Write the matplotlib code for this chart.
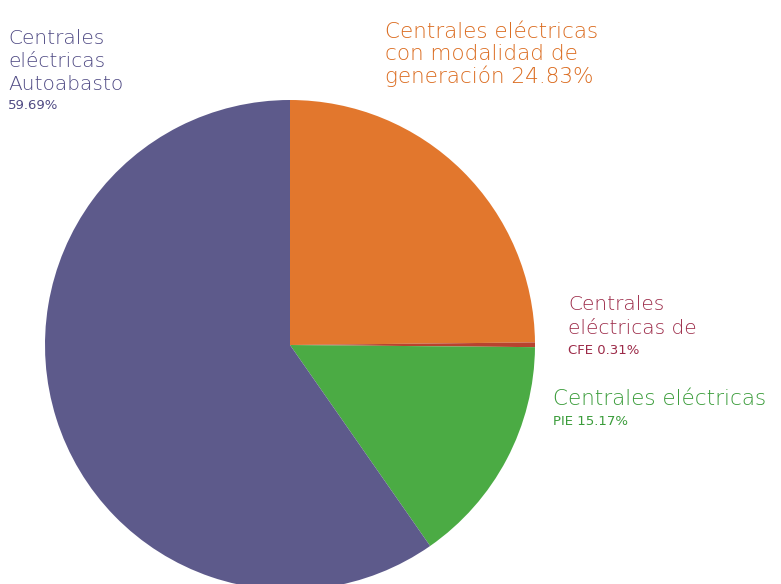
import matplotlib.pyplot as plt

# participación por tipo de central, en orden horario desde las 12
labels = ["generación", "CFE", "PIE", "Autoabasto"]
shares = [24.83, 0.31, 15.17, 59.69]
colors = ["#e2772d", "#b8432f", "#4bab44", "#5d5a8b"]

plt.rcParams['font.family'] = ['DejaVu Sans']

W, H = 781, 584
fig = plt.figure(figsize=(W / 100, H / 100), dpi=100)
ax = fig.add_axes([0, 0, 1, 1])

ax.pie(shares, colors=colors, startangle=90, counterclock=False,
       center=(290, H - 345), radius=245,
       wedgeprops=dict(linewidth=0))
ax.set_xlim(0, W)
ax.set_ylim(0, H)
ax.set_aspect('equal')
ax.axis('off')

SMALL = 9.5


def label(x, lines, color, big):
    # lines: (texto, baseline en px desde arriba, es_pequeño)
    for txt, y, small in lines:
        ax.text(x, H - y, txt, color=color,
                fontsize=SMALL if small else big,
                fontweight='normal' if small else 'light',
                va='baseline', ha='left')


label(8, [("Centrales", 44, False), ("eléctricas", 67, False),
          ("Autoabasto", 90, False), (f"{shares[3]:.2f}%", 109, True)],
      "#4f4a84", 14.5)
label(385, [("Centrales eléctricas", 38, False), ("con modalidad de", 60, False),
            (f"generación {shares[0]:.2f}%", 83, False)], "#db6c20", 15.5)
label(568, [("Centrales", 310, False), ("eléctricas de", 334, False),
            (f"CFE {shares[1]:.2f}%", 354, True)], "#9c2a48", 14.5)
label(553, [("Centrales eléctricas", 405, False),
            (f"PIE {shares[2]:.2f}%", 425, True)], "#3a9c3a", 15.5)

fig.savefig("out.png", dpi=100)
